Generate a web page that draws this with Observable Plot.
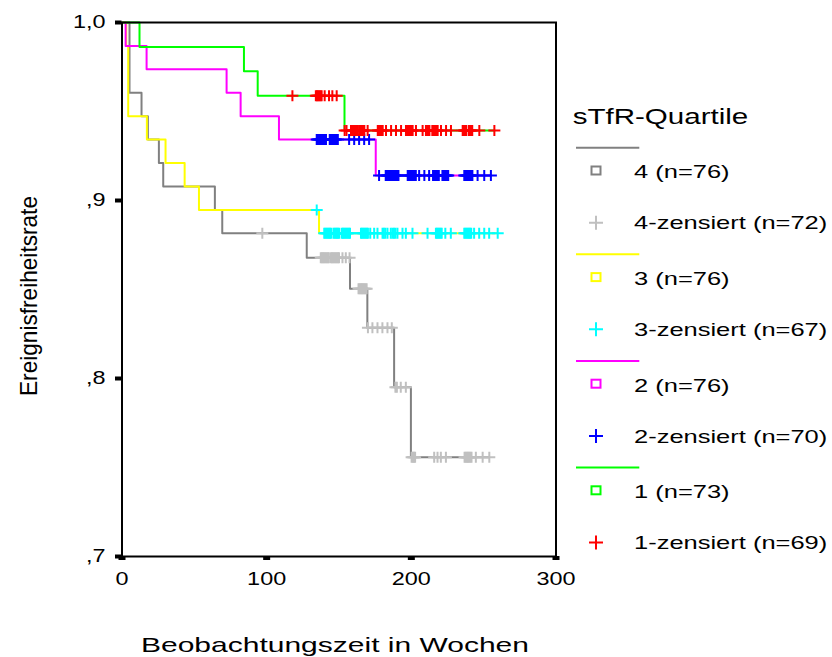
<!DOCTYPE html>
<html><head><meta charset="utf-8">
<script src="https://cdn.jsdelivr.net/npm/d3@7"></script>
<script src="https://cdn.jsdelivr.net/npm/@observablehq/plot@0.6"></script>
<style>body{margin:0;background:#fff}</style>
</head><body><div id="chart"></div>
<script>
// ---- data ----
const quartiles = ["4", "3", "2", "1"];
const lineColors = ["#808080", "#ffff00", "#ff00ff", "#00ff00"];
const censorColors = ["#c0c0c0", "#00ffff", "#0000ff", "#ff0000"];
const legendEvent = ["4 (n=76)", "3 (n=76)", "2 (n=76)", "1 (n=73)"];
const legendCensored = ["4-zensiert (n=72)", "3-zensiert (n=67)", "2-zensiert (n=70)", "1-zensiert (n=69)"];
const legendTitle = "sTfR-Quartile";
const xTitle = "Beobachtungszeit in Wochen";
const yTitle = "Ereignisfreiheitsrate";
const xTicks = [0, 100, 200, 300];
const yTicks = [0.7, 0.8, 0.9, 1.0];
const yTickLabels = [",7", ",8", ",9", "1,0"];

// step functions (time of step, survival after step)
const g4Time = [0, 5.2, 13.5, 17.9, 25.5, 28.5, 64.2, 69.3, 127.7, 157.6, 169.6, 188.1, 199.7];
const g4Surv = [1, 0.9605, 0.9474, 0.9342, 0.9211, 0.9079, 0.8947, 0.8816, 0.8678, 0.8504, 0.8285, 0.7951, 0.7558];
const g3Time = [0, 2.9, 4.3, 17.2, 30.1, 43.3, 53.2, 136.2];
const g3Surv = [1, 0.9868, 0.9474, 0.9342, 0.9211, 0.9079, 0.8947, 0.8816];
const g2Time = [0, 2.5, 17, 72.3, 82, 108.5, 175.4];
const g2Surv = [1, 0.9868, 0.9737, 0.9605, 0.9474, 0.9342, 0.9140];
const g1Time = [0, 12.1, 84.3, 93.8, 153.8];
const g1Surv = [1, 0.9863, 0.9726, 0.9589, 0.9393];
const endTime = [253.9, 259.7, 255.0, 257.4];

// censored observation times
const c4 = [97, 137.4, 138.2, 139, 139.8, 140.6, 141.4, 142.2, 143, 144.4, 145.2, 146, 146.8, 147.6, 148.4, 149.2, 150,
  152.4, 154.7, 157.3, 163.5, 164.3, 165.1, 165.9, 166.7, 167.5, 168.3, 169.1,
  170, 173.1, 176.6, 180, 183.5, 186.5, 189, 190, 192.7, 196.2,
  200.2, 201, 201.8, 202.6, 215.8, 218.1, 220.4, 223.9,
  236.8, 237.6, 238.4, 239.2, 240, 240.8, 241.6, 244.6, 249.3, 253.9];
const c3 = [134.6, 139.8, 140.6, 141.4, 142.2, 143, 143.8, 144.6, 146.2, 147, 147.8, 148.6, 149.4, 150.2,
  152, 152.8, 153.6, 154.4, 155.2, 156, 156.8, 157.6, 165.2, 166, 166.8, 167.6, 168.4, 169.2, 170, 171.6,
  174.3, 176.6, 180.1, 181, 182, 183.5, 185.8, 187, 188, 189, 190.4, 193.9, 196.2, 200.8, 211.2,
  217, 217.8, 218.6, 219.4, 220.2, 221, 223.5, 227.3, 236.6, 237.4, 238.2, 239, 239.8, 240.6, 241.4,
  243.4, 246.9, 250.4, 253.8, 259.7];
const c2 = [134.6, 135.4, 136.2, 137, 137.8, 138.6, 139.4, 140.2, 141, 143.6, 144.4, 145.2, 146, 146.8, 147.6, 148.4, 149.2,
  157, 160.5, 163.9, 167.4, 170.8, 177.7, 182.3, 183.1, 183.9, 184.7, 185.5, 186.3, 187.1, 187.9, 188.7, 189.5, 190.3, 191.1,
  197.5, 198.3, 199.1, 199.9, 200.7, 201.5, 202.3, 203.1, 205.4, 209, 212.3,
  215, 215.8, 216.6, 217.4, 218.2, 219, 221.5, 222.3, 223.1, 223.9, 224.7, 225.5,
  236.6, 237.4, 238.2, 239, 239.8, 240.6, 241.4, 242.2, 245.8, 250.4, 255];
const c1 = [117.8, 134, 134.8, 135.6, 136.4, 137.2, 138, 140.1, 143.1, 145.4, 148.4,
  153.9, 155.2, 158.3, 159.1, 159.9, 160.7, 161.5, 162.3, 163.1, 164.3, 165.1, 165.9, 166.7, 167.5, 169.8,
  176.8, 177.6, 178.4, 179.2, 180.2, 182.5, 186, 189.4, 192.9, 196.3, 197.1, 197.9, 198.7, 199.5, 200.3, 200.9,
  203.2, 207.8, 210.1, 210.9, 211.7, 212.5, 214.5, 215.3, 216.1, 216.9, 217.7, 218.2, 220.5, 224, 227.4,
  235.5, 236.3, 237.1, 237.9, 239.7, 240.5, 241.3, 242.1, 247, 257.4];

// ---- build tables ----
const stepTimes = [g4Time, g3Time, g2Time, g1Time];
const stepSurv = [g4Surv, g3Surv, g2Surv, g1Surv];
const censTimes = [c4, c3, c2, c1];

function levelAt(times, surv, t) {
  let s = surv[0];
  for (let i = 0; i < times.length; i++) if (times[i] <= t) s = surv[i];
  return s;
}
function crossSymbol(hx, hy) {
  return {draw(ctx) { ctx.moveTo(-hx, 0); ctx.lineTo(hx, 0); ctx.moveTo(0, -hy); ctx.lineTo(0, hy); }};
}

const marks = [];
quartiles.forEach((q, k) => {
  const rows = stepTimes[k].map((t, i) => ({t, s: stepSurv[k][i]}));
  rows.push({t: endTime[k], s: stepSurv[k][stepSurv[k].length - 1]});
  marks.push(Plot.line(rows, {x: "t", y: "s", curve: "step-after", stroke: lineColors[k], strokeWidth: 2}));
  const cens = censTimes[k].map(t => ({t, s: levelAt(stepTimes[k], stepSurv[k], t)}));
  marks.push(Plot.dot(cens, {x: "t", y: "s", symbol: crossSymbol(6, 5.5), r: 5, fill: "none", stroke: censorColors[k], strokeWidth: 2}));
});

const font = "'Liberation Sans', Arial, Helvetica, sans-serif";

const chart = Plot.plot({
  width: 832, height: 657,
  marginLeft: 121.5, marginRight: 276.5, marginTop: 22, marginBottom: 101,
  x: {domain: [0, 300]},
  y: {domain: [0.7, 1.0]},
  style: {fontFamily: font, fontSize: "18.6px", color: "black", background: "white", overflow: "visible"},
  marks: [
    ...marks,
    Plot.frame({stroke: "black", strokeWidth: 2}),
    Plot.axisX({ticks: xTicks, tickFormat: d => String(d), tickSize: 4, tickPadding: 11, strokeWidth: 7, label: null, fill: "black"}),
    Plot.axisY({ticks: yTicks, tickFormat: d => yTickLabels[yTicks.indexOf(d)], tickSize: 6.5, tickPadding: 10, strokeWidth: 4, label: null, fill: "black"})
  ]
});
document.getElementById("chart").appendChild(chart);

function stretch(el, factor, len) {
  const w = el.getComputedTextLength();
  el.setAttribute("textLength", len != null ? len : w * factor);
  el.setAttribute("lengthAdjust", "spacingAndGlyphs");
}
const svg = d3.select(chart);
svg.selectAll('g[aria-label="x-axis tick label"] text').each(function() { stretch(this, 1.26); });
svg.selectAll('g[aria-label="y-axis tick label"] text').each(function() { stretch(this, 1.26); });

// axis titles
const xt = svg.append("text").attr("x", 335).attr("y", 651.5).attr("text-anchor", "middle")
  .attr("font-family", font).attr("font-size", 21).attr("fill", "black").text(xTitle);
stretch(xt.node(), 1, 388);
const yt = svg.append("text").attr("transform", "translate(37,296) rotate(-90)").attr("text-anchor", "middle")
  .attr("font-family", font).attr("font-size", 24).attr("fill", "black").text(yTitle);
stretch(yt.node(), 1, 200);

// legend
const lg = svg.append("g").attr("font-family", font).attr("fill", "black").attr("text-anchor", "start");
const lt = lg.append("text").attr("x", 572.7).attr("y", 124).attr("font-size", 21.5).text(legendTitle);
stretch(lt.node(), 1, 175.6);
quartiles.forEach((q, k) => {
  const dy = k * 106.6;
  lg.append("line").attr("x1", 576).attr("x2", 639.3).attr("y1", 147.7 + dy).attr("y2", 147.7 + dy)
    .attr("stroke", lineColors[k]).attr("stroke-width", 2);
  lg.append("rect").attr("x", 591.5).attr("y", 166.5 + dy).attr("width", 9).attr("height", 8)
    .attr("fill", "none").attr("stroke", lineColors[k]).attr("stroke-width", 2);
  const a = lg.append("text").attr("x", 634).attr("y", 178.4 + dy).attr("font-size", 18.6).text(legendEvent[k]);
  stretch(a.node(), 1.37);
  lg.append("path").attr("d", `M589,${222.7 + dy}H603M596,${215.7 + dy}V${229.7 + dy}`)
    .attr("stroke", censorColors[k]).attr("stroke-width", 2).attr("fill", "none");
  const b = lg.append("text").attr("x", 634).attr("y", 229.4 + dy).attr("font-size", 18.6).text(legendCensored[k]);
  stretch(b.node(), 1.37);
});
</script>
</body></html>
